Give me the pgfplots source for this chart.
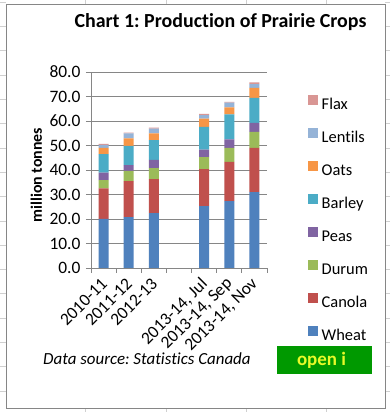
\documentclass[border=0pt]{standalone}
\usepackage{pgfplots}
\pgfplotsset{compat=1.18}
\usepackage{pgfplotstable}
\usepackage{fontspec}
\setmainfont[Ligatures=NoCommon]{Carlito}
\frenchspacing
\definecolor{cWheat}{HTML}{4F81BD}
\definecolor{cCanola}{HTML}{C0504D}
\definecolor{cDurum}{HTML}{9BBB59}
\definecolor{cPeas}{HTML}{8064A2}
\definecolor{cBarley}{HTML}{4BACC6}
\definecolor{cOats}{HTML}{F79646}
\definecolor{cLentils}{HTML}{95B3D7}
\definecolor{cFlax}{HTML}{D99694}
\definecolor{axgray}{HTML}{868686}
\definecolor{xlgrid}{HTML}{D0D0D0}
\definecolor{btngreen}{RGB}{0,153,0}
\definecolor{btntext}{RGB}{232,250,40}
\pgfplotstableread{
x wheat canola durum peas barley oats lentils flax
0 20.0 12.5 3.4 3.0 7.6 2.5 1.3 0.4
1 20.8 14.7 4.1 2.4 7.8 3.1 2.1 0.3
2 22.4 13.9 4.5 3.3 8.1 2.8 1.9 0.4
4 25.3 15.1 4.9 3.0 9.3 3.4 1.4 0.5
5 27.3 16.0 5.7 3.5 10.2 2.9 1.9 0.3
6 31.0 18.0 6.6 3.6 10.2 4.1 1.6 0.7
}\crops
\begin{document}
\begin{tikzpicture}[x=1bp,y=1bp]
\useasboundingbox (0,0) rectangle (390bp,412bp);
\fill[white] (0,0) rectangle (390bp,412bp);
\foreach \x in {85,166,246,326} {\draw[xlgrid,line width=0.75bp] (\x bp,412bp) -- (\x bp,408bp); \draw[xlgrid,line width=0.75bp] (\x bp,4bp) -- (\x bp,0bp);}
\foreach \k in {0,...,16} {\pgfmathsetmacro\yy{412-(2.2+24.3*\k)}
  \draw[xlgrid,line width=0.75bp] (0bp,\yy bp) -- (6bp,\yy bp); \draw[xlgrid,line width=0.75bp] (385bp,\yy bp) -- (390bp,\yy bp);}
\draw[axgray,line width=0.75bp,fill=white] (6bp,4bp) rectangle (385bp,408bp);
\node[anchor=base,inner sep=0pt,font=\fontsize{20}{22}\selectfont\bfseries] at (220.5bp,384.7bp) {Chart 1: Production of Prairie Crops};
\begin{axis}[
  at={(91bp,144bp)}, anchor=south west,
  scale only axis, width=176bp, height=196bp,
  ybar stacked, bar width=10bp,
  xmin=-0.5, xmax=6.5, ymin=0, ymax=80,
  ytick={0,10,...,80},
  xtick={0,...,6},
  xticklabels={2010-11,2011-12,2012-13,{},{2013-14, Jul},{2013-14, Sep},{2013-14, Nov}},
  minor xtick={-0.5,0.5,...,6.5},
  every major x tick/.append style={draw=none},
  major tick length=5bp, minor tick length=5bp,
  tick align=outside, tick pos=left,
  axis x line*=bottom, axis y line*=left,
  axis line style={axgray, line width=0.75bp, -},
  every tick/.append style={axgray, line width=0.75bp},
  ymajorgrids, major grid style={axgray, line width=0.75bp},
  tick label style={font=\fontsize{17.5}{19}\selectfont},
  /pgf/number format/.cd, fixed, fixed zerofill, precision=1, assume math mode=true, /pgfplots/.cd,
  yticklabel style={xshift=-2bp},
  xticklabel style={xshift=3bp, yshift=-6bp, rotate=45, anchor=east},
  every axis y label/.style={at={(axis description cs:-0.31,0.474)}, anchor=center, rotate=90, font=\fontsize{16}{18}\selectfont\bfseries},
  ylabel={million tonnes},
  reverse legend,
  legend style={at={(axis description cs:1.233,0.8827)}, anchor=north west, draw=none, fill=none, inner sep=0pt,
    row sep=16bp, column sep=3.5bp, font=\fontsize{16.5}{18}\selectfont,
    nodes={inner sep=0pt, text height=11bp, text depth=3bp}},
  legend cell align=left,
  legend image code/.code={\fill[#1] (0bp,0bp) rectangle (10bp,10bp);},
]
\addplot[fill=cWheat, draw=none] table[x=x,y=wheat]{\crops};
\addplot[fill=cCanola, draw=none] table[x=x,y=canola]{\crops};
\addplot[fill=cDurum, draw=none] table[x=x,y=durum]{\crops};
\addplot[fill=cPeas, draw=none] table[x=x,y=peas]{\crops};
\addplot[fill=cBarley, draw=none] table[x=x,y=barley]{\crops};
\addplot[fill=cOats, draw=none] table[x=x,y=oats]{\crops};
\addplot[fill=cLentils, draw=none] table[x=x,y=lentils]{\crops};
\addplot[fill=cFlax, draw=none] table[x=x,y=flax]{\crops};
\legend{Wheat,Canola,Durum,Peas,Barley,Oats,Lentils,Flax}
\end{axis}
\node[anchor=base west,inner sep=0pt,font=\fontsize{17}{19}\selectfont\itshape] at (43bp,47bp) {Data source: Statistics Canada};
\fill[btngreen] (277bp,37.7bp) rectangle (371.7bp,66bp);
\node[anchor=base,inner sep=0pt,text=btntext,font=\fontsize{19}{21}\selectfont\bfseries] at (321.5bp,46bp) {open i};
\end{tikzpicture}
\end{document}
